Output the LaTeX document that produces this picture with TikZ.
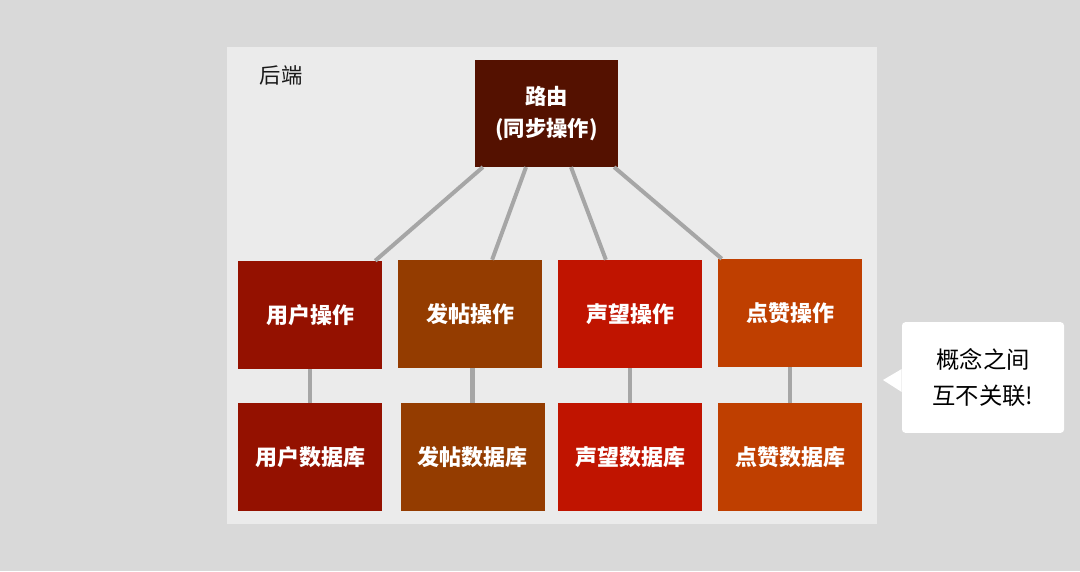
\documentclass[tikz,border=0pt]{standalone}
\usepackage{fontspec}
\newfontfamily\cjk{Noto Sans CJK SC}
\usetikzlibrary{calc}
\definecolor{bgGray}{HTML}{D9D9D9}
\definecolor{panelGray}{HTML}{EBEBEB}
\definecolor{linkGray}{HTML}{A6A6A6}
\definecolor{routeBrown}{HTML}{541100}
\definecolor{userRed}{HTML}{941100}
\definecolor{postBrown}{HTML}{943C00}
\definecolor{repRed}{HTML}{C01400}
\definecolor{likeOrange}{HTML}{BF3F00}

\begin{document}
\begin{tikzpicture}[x=0.75pt, y=-0.75pt,
    box/.style={minimum width=108pt, minimum height=81pt, inner sep=0pt,
      text=white, font=\cjk\bfseries\fontsize{16.5}{20}\selectfont},
    link/.style={draw=linkGray, line width=3pt},
    stem/.style={draw=linkGray, line width=3.5pt}]
    % page and backend panel
    \fill[bgGray] (0,0) rectangle (1080,571);
    \fill[panelGray] (227,47) rectangle (877,524);
    \useasboundingbox (0,0) rectangle (1080,571);
    \node[font=\cjk\fontsize{16}{19}\selectfont, text=black!90] (backend) at (281,75) {后端};
    % router on top
    \node[box, fill=routeBrown, minimum width=107pt, minimum height=80pt, align=center,
      font=\cjk\bfseries\fontsize{16}{23.5}\selectfont] (router) at (546.5,113.5) {\rule{0pt}{5pt}路由\\(同步操作)};
    % operations row
    \node[box, fill=userRed] (opUser) at (310,315) {用户操作};
    \node[box, fill=postBrown] (opPost) at (470,314) {发帖操作};
    \node[box, fill=repRed] (opRep) at (630,314) {声望操作};
    \node[box, fill=likeOrange] (opLike) at (790,313) {点赞操作};
    % database row
    \node[box, fill=userRed] (dbUser) at (310,457) {用户数据库};
    \node[box, fill=postBrown] (dbPost) at (472.5,457) {发帖数据库};
    \node[box, fill=repRed] (dbRep) at (630,457) {声望数据库};
    \node[box, fill=likeOrange] (dbLike) at (790,457) {点赞数据库};
    % router to operations
    \draw[link] ($(router.south west)!0.056!(router.south east)$) -- ($(opUser.north west)!0.951!(opUser.north east)$);
    \draw[link] ($(router.south west)!0.357!(router.south east)$) -- ($(opPost.north west)!0.653!(opPost.north east)$);
    \draw[link] ($(router.south west)!0.671!(router.south east)$) -- ($(opRep.north west)!0.333!(opRep.north east)$);
    \draw[link] ($(router.south west)!0.972!(router.south east)$) -- ($(opLike.north west)!0.028!(opLike.north east)$);
    % operations to databases
    \draw[stem] (opUser.south) -- (dbUser.north);
    \draw[stem] (dbPost.north |- opPost.south) -- (dbPost.north);
    \draw[stem] (opRep.south) -- (dbRep.north);
    \draw[stem] (opLike.south) -- (dbLike.north);
    % callout on the right
    \node[fill=white, rounded corners=2.5pt, minimum width=121.5pt, minimum height=83pt,
      align=center, font=\cjk\fontsize{17.5}{27}\selectfont] (note) at (983,377.5) {概念之间\\互不关联!};
    \coordinate (tip) at (883,380);
    \fill[white] (note.west |- 0,369) -- (tip) -- (note.west |- 0,392) -- cycle;
\end{tikzpicture}
\end{document}
